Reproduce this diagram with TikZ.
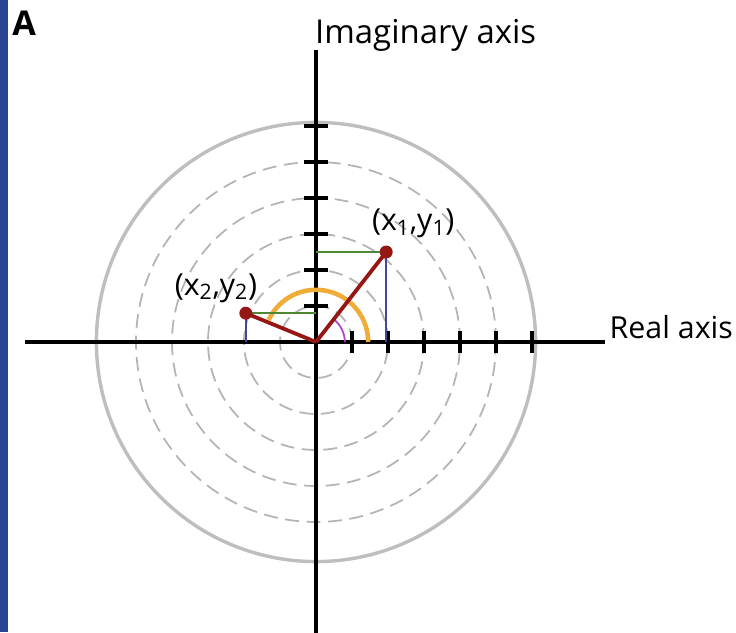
\documentclass[tikz,border=0pt]{standalone}
\usepackage{fontspec}
\setmainfont{Open Sans}
\usetikzlibrary{positioning}
\definecolor{stripblue}{RGB}{42,68,146}
\definecolor{ringgray}{RGB}{190,190,190}
\definecolor{dashgray}{RGB}{180,180,180}
\definecolor{vecred}{RGB}{150,22,22}
\definecolor{projgreen}{RGB}{80,135,55}
\definecolor{projblue}{RGB}{70,70,150}
\definecolor{anglorange}{RGB}{240,172,55}
\definecolor{anglmag}{RGB}{175,70,200}

\begin{document}
\begin{tikzpicture}[
  axis/.style={line width=3.2pt},
  tickmark/.style={line width=3pt},
  ring/.style={draw=ringgray, line width=2.7pt},
  dashring/.style={draw=dashgray, line width=1.4pt, dash pattern=on 11pt off 6pt},
  vec/.style={draw=vecred, line width=3pt},
  proj/.style={line width=1.5pt},
  dot/.style={circle, fill=vecred, inner sep=0pt, minimum size=0.36cm},
  lbl/.style={font=\fontsize{24}{28}\selectfont, inner sep=0pt},
  axlbl/.style={inner sep=0pt, anchor=base west}
]
\useasboundingbox (-8.778,-8.056) rectangle (11.667,9.5);
\fill[stripblue] (-8.778,-8.056) rectangle (-8.55,9.5);

% rings
\foreach \r in {1,...,5}
  \draw[dashring] (0,0) circle (\r);
\draw[ring] (0,0) circle (6.1);

% axes
\coordinate (O) at (0,0);
\coordinate (xl) at (-8.08,0);
\coordinate (xr) at (8.03,0);
\coordinate (yt) at (0,8.1);
\coordinate (yb) at (0,-8.2);
\draw[axis] (xl) -- (xr);
\draw[axis] (yb) -- (yt);
\foreach \k in {1,...,6} {
  \draw[tickmark] (\k,-0.3) -- (\k,0.3);
  \draw[tickmark] (-0.32,\k) -- (0.32,\k);
}

% angles
\draw[anglorange, line width=3.6pt] (1.45,0) arc (0:155:1.45);
\draw[anglmag, line width=1.4pt] (0.8,0) arc (0:52:0.8);

% the two numbers
\coordinate (z1) at (1.95,2.5);
\coordinate (z2) at (-1.95,0.8);
\draw[proj, projgreen] (z1) -- (z1 -| O);
\draw[proj, projblue] (z1) -- (z1 |- O);
\draw[proj, projgreen] (z2) -- (z2 -| O);
\draw[proj, projblue] (z2) -- (z2 |- O);
\draw[vec] (O) -- (z1);
\draw[vec] (O) -- (z2);
\node[dot] (d1) at (z1) {};
\node[dot] (d2) at (z2) {};
\node[lbl] (lab1) at (z1) [xshift=0.75cm, yshift=0.8cm] {(x\textsubscript{1},y\textsubscript{1})};
\node[lbl] (lab2) at (z2) [xshift=-0.83cm, yshift=0.7cm] {(x\textsubscript{2},y\textsubscript{2})};

% labels
\node[axlbl, font=\fontsize{26}{30}\selectfont] (imlbl) at ([xshift=-0.03cm, yshift=0.2cm]yt) {Imaginary axis};
\node[axlbl, font=\fontsize{24}{28}\selectfont] (relbl) at ([xshift=0.12cm, yshift=0.1cm]xr) {Real axis};
\node[axlbl, font=\bfseries\fontsize{27}{30}\selectfont] (panel) at (-8.44,8.5) {A};
\end{tikzpicture}
\end{document}
